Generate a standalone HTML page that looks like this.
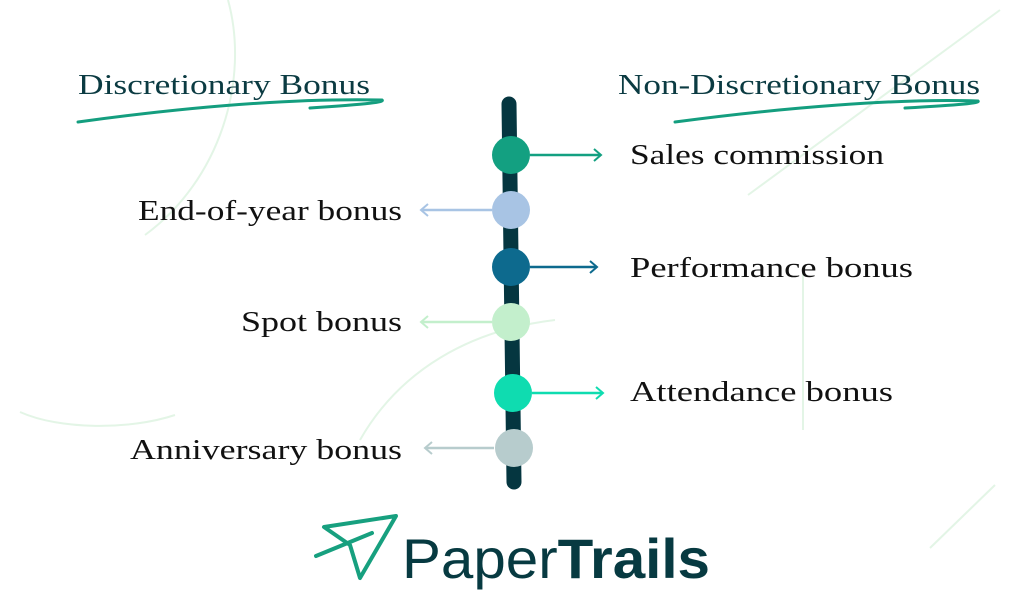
<!DOCTYPE html>
<html><head><meta charset="utf-8"><style>
html,body{margin:0;padding:0;background:#fff;}
svg{display:block;}
.t{font-family:"Liberation Serif",serif;font-size:28px;fill:#111;}
.h{font-family:"Liberation Serif",serif;font-size:29px;fill:#0b3b42;}
</style></head><body>
<svg width="1024" height="614" viewBox="0 0 1024 614" xmlns="http://www.w3.org/2000/svg">
<defs>
<marker id="ar" markerWidth="12" markerHeight="14" refX="9" refY="7" orient="auto" markerUnits="userSpaceOnUse">
<path d="M2,1 L9,7 L2,13" fill="none" stroke="context-stroke" stroke-width="2"/>
</marker>
</defs>
<g fill="none" stroke="#e3f5e6" stroke-width="2">
<path d="M228,0 C250,80 220,180 145,235"/>
<path d="M1000,10 L748,195"/>
<path d="M20,412 C60,430 130,430 175,415"/>
<path d="M360,440 C400,370 470,330 555,320"/>
<path d="M803,270 L803,430"/>
<path d="M995,485 L930,548"/>
</g>
<text class="h" x="78" y="94" textLength="292" lengthAdjust="spacingAndGlyphs">Discretionary Bonus</text>
<path d="M78,122 C180,108 290,98 382,100 C385,102 370,104 310,108" fill="none" stroke="#149e7f" stroke-width="3" stroke-linecap="round"/>
<text class="h" x="618" y="94" textLength="362" lengthAdjust="spacingAndGlyphs">Non-Discretionary Bonus</text>
<path d="M675,122 C780,108 900,98 978,101 C981,103 960,105 905,108" fill="none" stroke="#149e7f" stroke-width="3" stroke-linecap="round"/>
<line x1="509" y1="104" x2="514" y2="482" stroke="#053640" stroke-width="15" stroke-linecap="round"/>
<line x1="530" y1="155" x2="601" y2="155" stroke="#13a081" stroke-width="2.5" marker-end="url(#ar)"/>
<line x1="492" y1="210" x2="421" y2="210" stroke="#a8c4e4" stroke-width="2.5" marker-end="url(#ar)"/>
<line x1="530" y1="267" x2="597" y2="267" stroke="#0d6a8e" stroke-width="2.5" marker-end="url(#ar)"/>
<line x1="492" y1="322" x2="421" y2="322" stroke="#c3efcc" stroke-width="2.5" marker-end="url(#ar)"/>
<line x1="532" y1="393" x2="603" y2="393" stroke="#0fdcb0" stroke-width="2.5" marker-end="url(#ar)"/>
<line x1="494" y1="448" x2="425" y2="448" stroke="#b7cccd" stroke-width="2.5" marker-end="url(#ar)"/>
<circle cx="511" cy="155" r="19" fill="#13a081"/>
<circle cx="511" cy="210" r="19" fill="#a8c4e4"/>
<circle cx="511" cy="267" r="19" fill="#0d6a8e"/>
<circle cx="511" cy="322" r="19" fill="#c3efcc"/>
<circle cx="513" cy="393" r="19" fill="#0fdcb0"/>
<circle cx="514" cy="448" r="19" fill="#b7cccd"/>
<text class="t" x="630" y="164" textLength="254" lengthAdjust="spacingAndGlyphs">Sales commission</text>
<text class="t" x="138" y="220" textLength="264" lengthAdjust="spacingAndGlyphs">End-of-year bonus</text>
<text class="t" x="630" y="277" textLength="283" lengthAdjust="spacingAndGlyphs">Performance bonus</text>
<text class="t" x="241" y="331" textLength="161" lengthAdjust="spacingAndGlyphs">Spot bonus</text>
<text class="t" x="630" y="401" textLength="263" lengthAdjust="spacingAndGlyphs">Attendance bonus</text>
<text class="t" x="130" y="459" textLength="272" lengthAdjust="spacingAndGlyphs">Anniversary bonus</text>
<g fill="none" stroke="#17a07f" stroke-width="4" stroke-linejoin="round" stroke-linecap="round">
<path d="M324,527 L396,516 L360,578 L350,545 Z"/>
<path d="M316,556 L372,533"/>
</g>
<text x="402" y="578" font-family="'Liberation Sans',sans-serif" font-size="56" fill="#073a41" textLength="308" lengthAdjust="spacingAndGlyphs">Paper<tspan font-weight="bold">Trails</tspan></text>
</svg>
</body></html>
